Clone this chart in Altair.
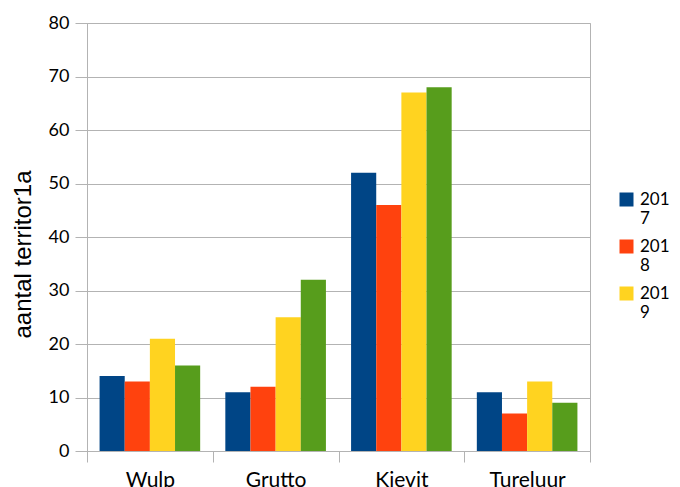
import altair as alt
import pandas as pd

categories = ["Wulp", "Grutto", "Kievit", "Tureluur"]
years = ["2017", "2018", "2019", "2020"]
v2017 = [14, 11, 52, 11]
v2018 = [13, 12, 46, 7]
v2019 = [21, 25, 67, 13]
v2020 = [16, 32, 68, 9]
colors = ["#004586", "#ff420e", "#ffd320", "#579d1c"]

rows = []
for yr, vals in zip(years, [v2017, v2018, v2019, v2020]):
    for c, v in zip(categories, vals):
        rows.append({"soort": c, "jaar": yr, "aantal": v})
df = pd.DataFrame(rows)

gray = "#b3b3b3"

chart = alt.Chart(df).mark_bar().encode(
    x=alt.X("soort:N", sort=categories, title=None,
            scale=alt.Scale(paddingInner=0, paddingOuter=0),
            axis=alt.Axis(tickBand="extent", grid=False, labelAngle=0,
                          tickSize=11, tickColor=gray, domainColor=gray,
                          labelFont="Lato", labelFontSize=21, labelColor="#000000",
                          labelPadding=7)),
    xOffset=alt.XOffset("jaar:N", sort=years,
                        scale=alt.Scale(paddingInner=0, paddingOuter=0.5)),
    y=alt.Y("aantal:Q", title="aantal territor1a",
            scale=alt.Scale(domain=[0, 80], nice=False),
            axis=alt.Axis(values=[0, 10, 20, 30, 40, 50, 60, 70, 80],
                          tickSize=12, tickColor=gray, domainColor=gray,
                          gridColor=gray, labelFont="Lato", labelFontSize=18,
                          labelColor="#000000", labelPadding=6,
                          titleFont="Liberation Sans", titleFontSize=24,
                          titleFontWeight="normal", titleColor="#000000",
                          titlePadding=13, titleY=231)),
    color=alt.Color("jaar:N", sort=years,
                    scale=alt.Scale(domain=years, range=colors),
                    legend=alt.Legend(title=None, values=["2017", "2018", "2019"],
                                      orient="none", legendX=531, legendY=168,
                                      symbolType="square", symbolSize=196,
                                      symbolStrokeWidth=0,
                                      labelFont="Lato", labelFontSize=17,
                                      labelColor="#000000", labelLimit=200,
                                      labelExpr="[slice(datum.label,0,3), slice(datum.label,3)]",
                                      rowPadding=10, labelOffset=5)),
).properties(
    width=503, height=428,
    padding={"left": 79, "top": 15, "right": 82, "bottom": 40},
    autosize="none",
).configure_view(stroke=gray).configure_axis(gridWidth=1)

chart.save("out.html", embed_options={"renderer": "svg", "actions": False})
